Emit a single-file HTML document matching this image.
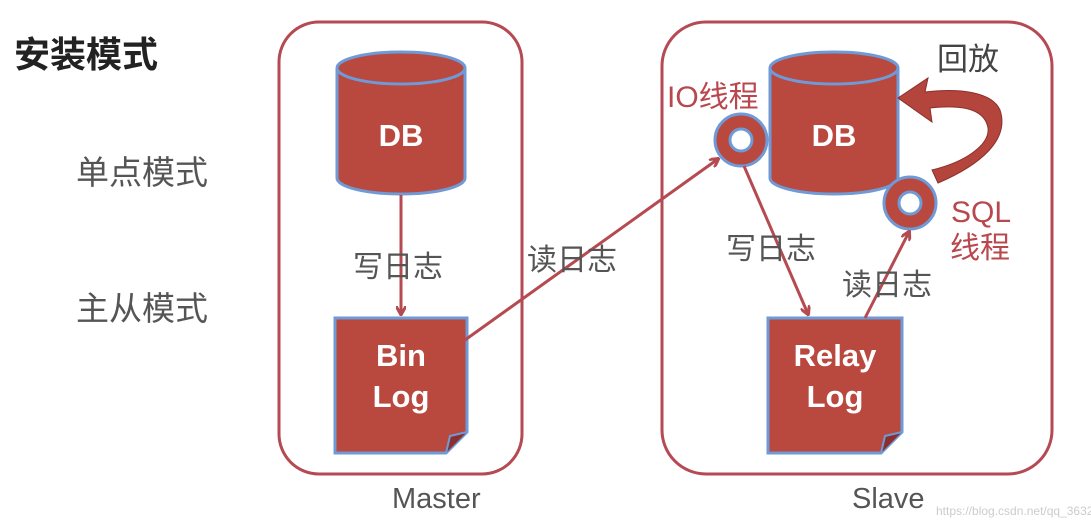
<!DOCTYPE html>
<html><head><meta charset="utf-8"><style>
html,body{margin:0;padding:0;background:#fff;}
svg{display:block;}
text{font-family:"Liberation Sans","Noto Sans CJK SC",sans-serif;}
</style></head><body>
<svg width="1091" height="530" viewBox="0 0 1091 530">
<defs>
<marker id="ah" markerWidth="10" markerHeight="10" refX="8" refY="5" orient="auto" markerUnits="userSpaceOnUse">
<path d="M0,0 L9,5 L0,10" fill="none" stroke="#b54a50" stroke-width="3"/>
</marker>
</defs>
<rect x="0" y="0" width="1091" height="530" fill="#fff"/>
<rect x="279" y="22" width="243" height="452" rx="40" fill="none" stroke="#b54a55" stroke-width="3"/>
<rect x="662" y="22" width="390" height="452" rx="44" fill="none" stroke="#b54a55" stroke-width="3"/>
<text x="14" y="67" font-size="36" font-weight="bold" fill="#222">安装模式</text>
<text x="76" y="184" font-size="33" fill="#555">单点模式</text>
<text x="76" y="320" font-size="33" fill="#555">主从模式</text>
<g stroke="#6f9ad6" stroke-width="3" fill="#b9483e">
<path d="M337,68 L337,178 A64,16 0 0 0 465,178 L465,68"/>
<ellipse cx="401" cy="68" rx="64" ry="16"/>
</g>
<text x="401" y="146" font-size="31" font-weight="bold" fill="#fff" text-anchor="middle" font-family="DejaVu Sans">DB</text>
<g stroke="#6f9ad6" stroke-width="3" fill="#b9483e">
<path d="M770,68 L770,178 A64,16 0 0 0 898,178 L898,68"/>
<ellipse cx="834" cy="68" rx="64" ry="16"/>
</g>
<text x="834" y="146" font-size="31" font-weight="bold" fill="#fff" text-anchor="middle" font-family="DejaVu Sans">DB</text>
<path d="M335,318 L467,318 L467,432 L446,453 L335,453 Z" fill="#b9483e" stroke="#6f9ad6" stroke-width="3"/>
<path d="M446,453 L450,436 L467,432" fill="#8a2e2e" stroke="#6f9ad6" stroke-width="2"/>
<text x="401" y="366" font-size="31" font-weight="bold" fill="#fff" text-anchor="middle" font-family="DejaVu Sans">Bin</text>
<text x="401" y="407" font-size="31" font-weight="bold" fill="#fff" text-anchor="middle" font-family="DejaVu Sans">Log</text>
<path d="M768,318 L902,318 L902,432 L881,453 L768,453 Z" fill="#b9483e" stroke="#6f9ad6" stroke-width="3"/>
<path d="M881,453 L885,436 L902,432" fill="#8a2e2e" stroke="#6f9ad6" stroke-width="2"/>
<text x="835" y="366" font-size="31" font-weight="bold" fill="#fff" text-anchor="middle" font-family="DejaVu Sans">Relay</text>
<text x="835" y="407" font-size="31" font-weight="bold" fill="#fff" text-anchor="middle" font-family="DejaVu Sans">Log</text>
<path d="M938,183 C980,165 1010,140 1000,110 C992,92 960,88 925,92 L928,78 L898,98 L932,122 L930,108 C965,104 985,110 988,128 C990,145 965,162 932,170 Z" fill="#b3453c" stroke="#8e2f2c" stroke-width="1"/>
<circle cx="741" cy="140" r="26" fill="#b9483e" stroke="#6f9ad6" stroke-width="3"/>
<circle cx="741" cy="140" r="11" fill="#fff" stroke="#6f9ad6" stroke-width="3"/>
<circle cx="910" cy="203" r="26" fill="#b9483e" stroke="#6f9ad6" stroke-width="3"/>
<circle cx="910" cy="203" r="11" fill="#fff" stroke="#6f9ad6" stroke-width="3"/>
<g stroke="#b54a50" stroke-width="3" fill="none">
<line x1="401" y1="195" x2="401" y2="314" marker-end="url(#ah)"/>
<line x1="465" y1="340" x2="718" y2="159" marker-end="url(#ah)"/>
<line x1="744" y1="166" x2="808" y2="314" marker-end="url(#ah)"/>
<line x1="865" y1="318" x2="909" y2="232" marker-end="url(#ah)"/>
</g>
<text x="353" y="277" font-size="30" fill="#555">写日志</text>
<text x="527" y="270" font-size="30" fill="#555">读日志</text>
<text x="726" y="259" font-size="30" fill="#555">写日志</text>
<text x="842" y="295" font-size="30" fill="#555">读日志</text>
<text x="937" y="70" font-size="31" fill="#444">回放</text>
<text x="667" y="107" font-size="30" fill="#b9484e">IO线程</text>
<text x="951" y="222" font-size="30" fill="#b9484e">SQL</text>
<text x="950" y="258" font-size="30" fill="#b9484e">线程</text>
<text x="392" y="508" font-size="29" fill="#555" font-family="DejaVu Sans">Master</text>
<text x="852" y="508" font-size="29" fill="#555" font-family="DejaVu Sans">Slave</text>
<text x="936" y="515" font-size="12" fill="#ccc">https://blog.csdn.net/qq_36327717</text>
</svg>
</body></html>
